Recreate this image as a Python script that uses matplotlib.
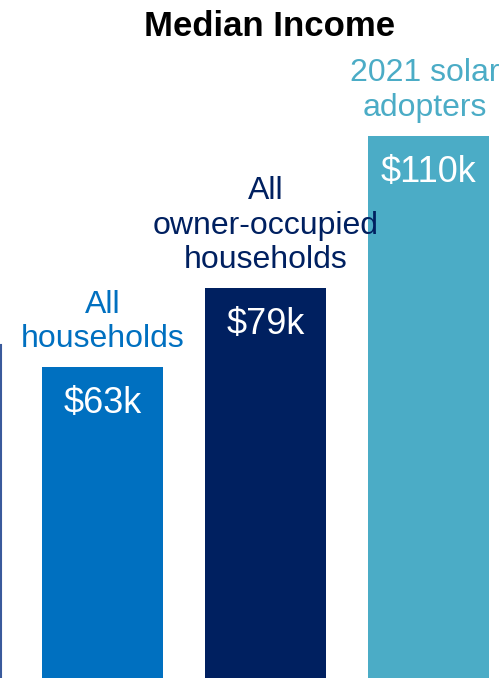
import matplotlib
matplotlib.use("Agg")
import matplotlib.pyplot as plt
from matplotlib.lines import Line2D

plt.rcParams['font.family'] = ['Liberation Sans', 'DejaVu Sans']

# data
categories = ["All\nhouseholds", "All\nowner-occupied\nhouseholds", "2021 solar\nadopters"]
incomes = [63, 79, 110]
value_labels = ["$63k", "$79k", "$110k"]
colors = ["#0070c0", "#002060", "#4bacc6"]


def plot_income():
    fig = plt.figure(figsize=(5.03, 6.78), dpi=100)
    ax = fig.add_axes([0, 0, 1, 1])
    ax.axis('off')

    xs = list(range(len(incomes)))
    ax.bar(xs, incomes, width=0.742, color=colors)
    ax.set_xlim(-0.629, 2.457)
    ax.set_ylim(0, 137.5)

    for x, v, cat, lab, c in zip(xs, incomes, categories, value_labels, colors):
        # last label sits a little left of its bar in the original
        dx = -4 if x == len(incomes) - 1 else 0
        ax.annotate(cat, (x, v), xytext=(dx, 13), textcoords='offset pixels',
                    ha='center', va='bottom', fontsize=23, color=c)
        ax.annotate(lab, (x, v), xytext=(0, -19), textcoords='offset pixels',
                    ha='center', va='top', fontsize=26, color='white')

    fig.text(0.535, 1 - 26 / 678, "Median Income", ha='center', va='center',
             fontsize=25, fontweight='bold', color='black')

    # edge of the neighbouring panel, cut off at the left
    fig.add_artist(Line2D([1 / 503, 1 / 503], [0, 1 - 345 / 678],
                          transform=fig.transFigure, color='#3a5a9c', linewidth=1.5))

    fig.savefig("out.png", dpi=100)


if __name__ == "__main__":
    plot_income()
